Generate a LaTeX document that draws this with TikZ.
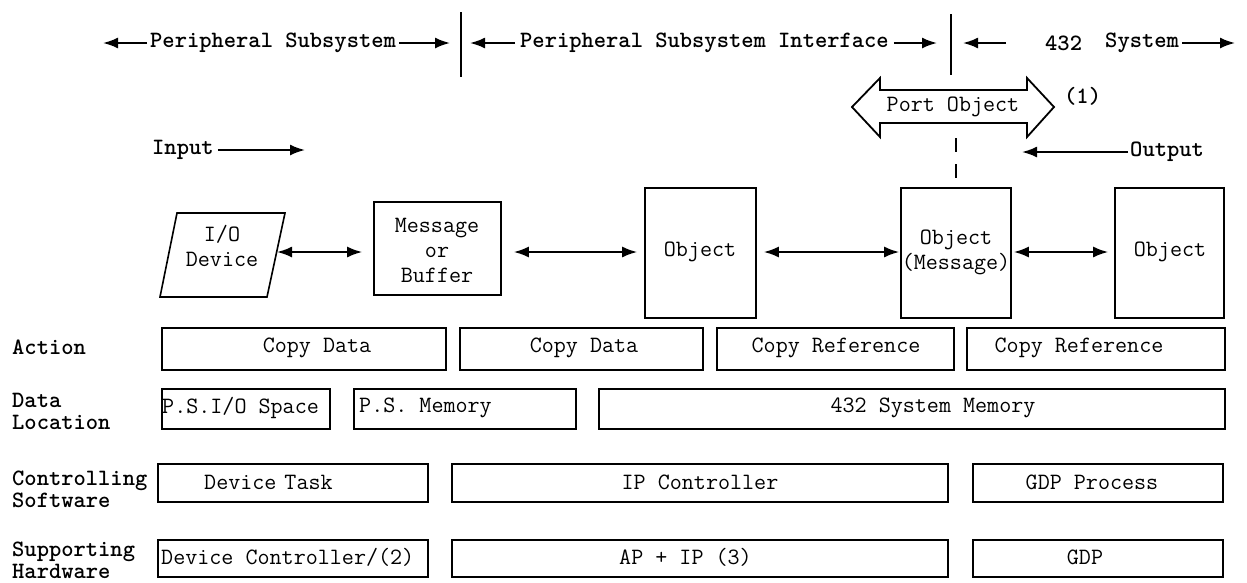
\documentclass[tikz,border=0pt]{standalone}
\usepackage{fontspec}
\newfontfamily\hdrfont{lmmonolt10-bold}[Extension=.otf]
\newfontfamily\boxfont{Latin Modern Mono}
\usetikzlibrary{arrows.meta}
\begin{document}
\begin{tikzpicture}[x=1pt,y=-1pt,
  hdr/.style={font=\hdrfont\fontsize{23.4}{23}\selectfont, inner sep=0pt, anchor=west},
  rowlbl/.style={font=\hdrfont\fontsize{23.4}{22}\selectfont, inner sep=0pt, anchor=west, align=left},
  txt/.style={font=\boxfont\fontsize{23.4}{25}\selectfont, inner sep=0pt, align=center},
  boxline/.style={draw, line width=1.6pt},
  arr/.style={-{Latex[length=15pt,width=11pt]}, line width=2pt},
  darr/.style={{Latex[length=15pt,width=11pt]}-{Latex[length=15pt,width=11pt]}, line width=2pt},
  barline/.style={line width=2.2pt}
]
\useasboundingbox (0,0) rectangle (1247,582);

% ---------- top header ----------
\node[hdr] (ps) at (150,43) {Peripheral Subsystem};
\coordinate (psL) at (103,43);
\coordinate (psR) at (450,43);
\draw[arr] (ps.west) ++(-3,0) -- (psL);
\draw[arr] (ps.east) ++(3,0) -- (psR);
\coordinate (bar1t) at (461,12);
\coordinate (bar1b) at (461,77);
\draw[barline] (bar1t) -- (bar1b);

\node[hdr] (psi) at (520,43) {Peripheral Subsystem Interface};
\coordinate (psiL) at (470,43);
\coordinate (psiR) at (937,43);
\draw[arr] (psi.west) ++(-5,0) -- (psiL);
\draw[arr] (psi.east) ++(5,0) -- (psiR);
\coordinate (bar2t) at (951,14);
\coordinate (bar2b) at (951,75);
\draw[barline] (bar2t) -- (bar2b);

\node[hdr] (n432) at (1045,43) {432};
\node[hdr] (sys) at (1105,43) {System};
\coordinate (sysL) at (963,43);
\coordinate (sysLt) at (1006,43);
\coordinate (sysR) at (1235,43);
\draw[arr] (sysLt) -- (sysL);
\draw[arr] (sys.east) ++(3,0) -- (sysR);

% ---------- port object ----------
\draw[line width=1.8pt, line join=miter]
  (852,107) -- (880,78) -- (880,90) -- (1027,90) -- (1027,78) -- (1054,107)
  -- (1027,137) -- (1027,123) -- (880,123) -- (880,137) -- cycle;
\node[txt] (port) at (953,107) {Port Object};
\node[hdr] (fn1) at (1064,96) {(1)};

% ---------- input / output ----------
\node[hdr] (inp) at (152,150) {Input};
\coordinate (inpR) at (305,150);
\draw[arr] (inp.east) ++(4,0) -- (inpR);
\node[hdr] (outp) at (1130,152) {Output};
\coordinate (outL) at (1022,152);
\draw[arr] (outp.west) ++(-2,0) -- (outL);

% ---------- objects row ----------
\draw[boxline, line join=miter] (177,213) -- (285,213) -- (267,297) -- (160,297) -- cycle;
\node[txt] (io) at (222,246) {I/O\\Device};
\node[boxline, minimum width=127pt, minimum height=93pt, inner sep=0pt] (msg) at (437.5,248.5) {};
\node[txt] (msgt) at (437,250) {Message\\or\\Buffer};
\node[boxline, minimum width=111pt, minimum height=130pt, inner sep=0pt] (obj1) at (700.5,253) {};
\node[txt] (obj1t) at (700,252) {Object};
\node[boxline, minimum width=110pt, minimum height=130pt, inner sep=0pt] (objm) at (956,253) {};
\node[txt] (objmt) at (956,252) {Object\\(Message)};
\node[boxline, minimum width=109pt, minimum height=130pt, inner sep=0pt] (obj3) at (1169.5,253) {};
\node[txt] (obj3t) at (1170,252) {Object};

\coordinate (pb) at ([yshift=49pt]objm.north);
\draw[line width=2.2pt, dash pattern=on 14pt off 12pt] (pb) -- (objm.north);

\coordinate (ioR) at (277,252);
\draw[darr] (ioR) -- ([xshift=-11pt]msg.west |- ioR);
\draw[darr] ([xshift=12pt]msg.east |- ioR) -- ([xshift=-7pt]obj1.west |- ioR);
\draw[darr] ([xshift=7pt]obj1.east |- ioR) -- ([xshift=-1pt]objm.west |- ioR);
\draw[darr] ([xshift=2pt]objm.east |- ioR) -- ([xshift=-6pt]obj3.west |- ioR);

% ---------- row labels ----------
\node[rowlbl] (lAction) at (12,347) {Action};
\node[rowlbl] (lData) at (12,411) {Data\\Location};
\node[rowlbl] (lCtrl) at (12,489) {Controlling\\Software};
\node[rowlbl] (lSupp) at (12,560) {Supporting\\Hardware};

% ---------- action row ----------
\node[boxline, anchor=north west, minimum width=284pt, minimum height=42pt, inner sep=0pt] (a1) at (161,327) {};
\node[txt] (a1t) at (317,348) {Copy Data};
\node[boxline, anchor=north west, minimum width=243pt, minimum height=42pt, inner sep=0pt] (a2) at (459,327) {};
\node[txt] (a2t) at (584,348) {Copy Data};
\node[boxline, anchor=north west, minimum width=237pt, minimum height=42pt, inner sep=0pt] (a3) at (716,327) {};
\node[txt] (a3t) at (836,348) {Copy Reference};
\node[boxline, anchor=north west, minimum width=258pt, minimum height=42pt, inner sep=0pt] (a4) at (966,327) {};
\node[txt] (a4t) at (1079,348) {Copy Reference};

% ---------- data location row ----------
\node[boxline, anchor=north west, minimum width=168pt, minimum height=40pt, inner sep=0pt] (d1) at (161,388) {};
\node[txt, anchor=west] (d1t) at (162,408) {P.S.I/O Space};
\node[boxline, anchor=north west, minimum width=222pt, minimum height=40pt, inner sep=0pt] (d2) at (353,388) {};
\node[txt, anchor=west] (d2t) at (359,408) {P.S. Memory};
\node[boxline, anchor=north west, minimum width=626pt, minimum height=40pt, inner sep=0pt] (d3) at (598,388) {};
\node[txt] (d3t) at (933,408) {432 System Memory};

% ---------- controlling software row ----------
\node[boxline, anchor=north west, minimum width=270pt, minimum height=38pt, inner sep=0pt] (c1) at (157,463) {};
\node[txt, anchor=west] (c1t) at (204,482) {Device\hspace{8pt}Task};
\node[boxline, anchor=north west, minimum width=496pt, minimum height=38pt, inner sep=0pt] (c2) at (451,463) {};
\node[txt] (c2t) at (700,482) {IP Controller};
\node[boxline, anchor=north west, minimum width=250pt, minimum height=38pt, inner sep=0pt] (c3) at (972,463) {};
\node[txt] (c3t) at (1092,482) {GDP Process};

% ---------- supporting hardware row ----------
\node[boxline, anchor=north west, minimum width=270pt, minimum height=37pt, inner sep=0pt] (s1) at (157,539) {};
\node[txt, anchor=west] (s1t) at (161,557) {Device Controller/(2)};
\node[boxline, anchor=north west, minimum width=496pt, minimum height=37pt, inner sep=0pt] (s2) at (451,539) {};
\node[txt, anchor=west] (s2t) at (619,557) {AP + IP (3)};
\node[boxline, anchor=north west, minimum width=250pt, minimum height=37pt, inner sep=0pt] (s3) at (972,539) {};
\node[txt] (s3t) at (1085,557) {GDP};
\end{tikzpicture}
\end{document}
